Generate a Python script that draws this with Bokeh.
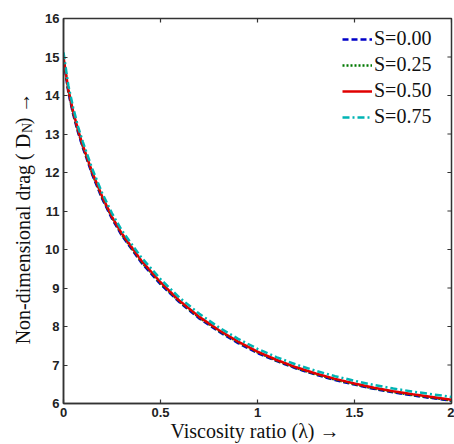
import math
from bokeh.plotting import figure
from bokeh.layouts import row
from bokeh.models import Legend, LegendItem, FixedTicker, Range1d
from bokeh.core.properties import value
from bokeh.embed import file_html
from bokeh.resources import INLINE

lam = [0, 0.025, 0.05, 0.075, 0.1, 0.15, 0.2, 0.25, 0.3, 0.4, 0.5, 0.6, 0.7,
       0.8, 0.9, 1.0, 1.1, 1.2, 1.3, 1.4, 1.5, 1.6, 1.7, 1.8, 1.9, 2.0]
d_s000 = [14.93, 14.08, 13.51, 13.04, 12.64, 11.92, 11.31, 10.80, 10.37, 9.67, 9.10, 8.62, 8.21,
          7.87, 7.57, 7.31, 7.10, 6.91, 6.75, 6.61, 6.49, 6.38, 6.29, 6.21, 6.14, 6.07]
d_s025 = [14.96, 14.11, 13.54, 13.07, 12.67, 11.95, 11.34, 10.83, 10.39, 9.69, 9.12, 8.64, 8.23,
          7.89, 7.59, 7.33, 7.11, 6.92, 6.76, 6.62, 6.50, 6.39, 6.30, 6.22, 6.15, 6.08]
d_s050 = [15.00, 14.15, 13.58, 13.10, 12.70, 11.98, 11.37, 10.85, 10.42, 9.72, 9.15, 8.66, 8.25,
          7.91, 7.61, 7.35, 7.13, 6.94, 6.78, 6.64, 6.52, 6.41, 6.32, 6.24, 6.17, 6.10]
d_s075 = [15.12, 14.26, 13.68, 13.19, 12.79, 12.07, 11.46, 10.94, 10.50, 9.80, 9.23, 8.74, 8.33,
          7.98, 7.68, 7.42, 7.20, 7.01, 6.85, 6.71, 6.59, 6.48, 6.39, 6.31, 6.24, 6.17]
series_labels = ["S=0.00", "S=0.25", "S=0.50", "S=0.75"]
x_ticks = [0, 0.5, 1, 1.5, 2]
x_tick_labels = ["0", "0.5", "1", "1.5", "2"]
y_ticks = [6, 7, 8, 9, 10, 11, 12, 13, 14, 15, 16]
x_title = "Viscosity ratio (\u03bb)  \u2192"
y_title_parts = ["Non-dimensional drag ( D", "N", " )  \u2192"]

AX = "#333333"
XMIN, XMAX, YMIN, YMAX = 0, 2, 6, 16

p = figure(width=418, height=444, x_range=Range1d(XMIN, XMAX), y_range=Range1d(YMIN, YMAX),
           output_backend="svg", toolbar_location=None,
           min_border_left=27, min_border_right=3, min_border_top=18, min_border_bottom=40)
p.xgrid.grid_line_color = None
p.ygrid.grid_line_color = None
p.outline_line_color = AX
p.outline_line_width = 1.5
p.background_fill_color = "white"
p.border_fill_color = "white"

xa = p.xaxis[0]
ya = p.yaxis[0]
xa.ticker = FixedTicker(ticks=x_ticks)
xa.major_label_overrides = {t: l for t, l in zip(x_ticks, x_tick_labels)}
ya.ticker = FixedTicker(ticks=y_ticks)
for ax in (xa, ya):
    ax.axis_line_color = AX
    ax.axis_line_width = 1.5
    ax.major_tick_in = 4
    ax.major_tick_out = 0
    ax.major_tick_line_color = AX
    ax.major_tick_line_width = 1.2
    ax.minor_tick_line_color = None
    ax.major_label_text_font = "Liberation Sans"
    ax.major_label_text_font_style = "bold"
    ax.major_label_text_font_size = "13px"
    ax.major_label_text_color = "#222222"
xa.major_label_standoff = 4
ya.major_label_standoff = 4
xa.axis_label = x_title
xa.axis_label_text_font = "Liberation Serif"
xa.axis_label_text_font_style = "normal"
xa.axis_label_text_font_size = "20px"
xa.axis_label_text_color = "#111111"
xa.axis_label_standoff = 0

# inward ticks on the top and right sides of the box (mirroring the axis ticks)
tick_dy = (YMAX - YMIN) * 0.0105
tick_dx = (XMAX - XMIN) * 0.0105
p.segment(x0=x_ticks, y0=[YMAX] * len(x_ticks), x1=x_ticks, y1=[YMAX - tick_dy] * len(x_ticks),
          line_color=AX, line_width=1.2)
p.segment(x0=[XMAX] * len(y_ticks), y0=y_ticks, x1=[XMAX - tick_dx] * len(y_ticks), y1=y_ticks,
          line_color=AX, line_width=1.2)

styles = [
    ("#0000c8", "6 3", d_s000),
    ("#007800", "2 2", d_s025),
    ("#e00000", "", d_s050),
    ("#00b4b4", "7 3 2 3", d_s075),
]
items = []
for (col, dash, ys), lab in zip(styles, series_labels):
    kw = dict(line_color=col, line_width=2.5)
    if dash:
        kw["line_dash"] = dash
    r = p.line(lam, ys, **kw)
    items.append(LegendItem(label=lab, renderers=[r]))

leg = Legend(items=items, location=(279, 275))
leg.label_text_font = "Liberation Serif"
leg.label_text_font_size = "20px"
leg.label_text_color = "#111111"
leg.glyph_width = 30
leg.glyph_height = 20
leg.label_height = 20
leg.spacing = 3
leg.label_standoff = 2
leg.padding = 0
leg.margin = 0
leg.border_line_alpha = 0
leg.background_fill_alpha = 0
p.add_layout(leg)

# narrow strip on the left carrying the vertical y-axis title (with subscript N)
lf = figure(width=36, height=444, x_range=Range1d(0, 36), y_range=Range1d(0, 444),
            output_backend="svg", toolbar_location=None,
            min_border_left=0, min_border_right=0, min_border_top=0, min_border_bottom=0)
lf.axis.visible = False
lf.xgrid.grid_line_color = None
lf.ygrid.grid_line_color = None
lf.outline_line_color = None
lf.background_fill_color = "white"
lf.border_fill_color = "white"
lf.text(x=[22], y=[311], text=[y_title_parts[0]], angle=math.pi / 2,
        text_align="right", text_baseline="middle",
        text_font=value("Liberation Serif"), text_font_size="20px", text_color="#111111")
lf.text(x=[27], y=[312], text=[y_title_parts[1]], angle=math.pi / 2,
        text_align="left", text_baseline="middle",
        text_font=value("Liberation Serif"), text_font_size="14px", text_color="#111111")
lf.text(x=[22], y=[322], text=[y_title_parts[2]], angle=math.pi / 2,
        text_align="left", text_baseline="middle",
        text_font=value("Liberation Serif"), text_font_size="20px", text_color="#111111")

layout = row(lf, p, spacing=0)
open("out.html", "w").write(file_html(layout, INLINE))
